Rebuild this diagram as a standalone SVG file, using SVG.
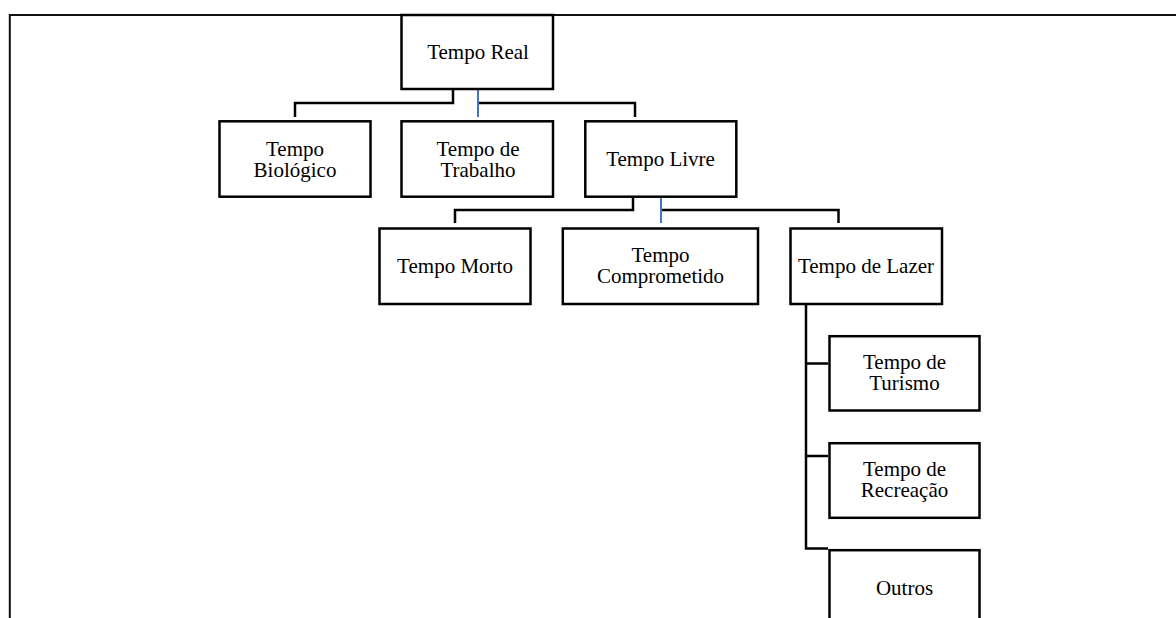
<svg xmlns="http://www.w3.org/2000/svg" width="1176" height="618" viewBox="0 0 1176 618">
  <style>
    .box { fill: #ffffff; stroke: #000000; stroke-width: 2.5; }
    .lbl { font-family: "Liberation Serif", "Times New Roman", serif; font-size: 21px; fill: #000000; text-anchor: middle; }
    .conn { fill: none; stroke: #000000; stroke-width: 2.5; }
    .conn-blue { fill: none; stroke: #4472C4; stroke-width: 2; }
    .frame { fill: none; stroke: #111111; stroke-width: 2; }
  </style>

  <rect width="1176" height="618" fill="#ffffff"/>

  <!-- outer frame (top and left edges) -->
  <path class="frame" d="M9.8,618 V15 H1176"/>

  <!-- connectors -->
  <g id="connectors">
    <path class="conn" d="M453,89 V103 H295 V117"/>
    <path class="conn" d="M478,103 H635 V117"/>
    <path class="conn-blue" d="M478,89 V117"/>

    <path class="conn" d="M633,197 V210 H455 V223"/>
    <path class="conn" d="M661,210 H838.5 V223"/>
    <path class="conn-blue" d="M661,197 V223"/>

    <path class="conn" d="M806,304 V548.5 H828"/>
    <path class="conn" d="M806,363.5 H828"/>
    <path class="conn" d="M806,456 H828"/>
  </g>

  <g id="tempo-real">
    <rect class="box" x="401.5" y="15" width="151.5" height="74"/>
    <text class="lbl" x="478" y="59">Tempo Real</text>
  </g>

  <g id="tempo-biologico">
    <rect class="box" x="219.5" y="121.3" width="151" height="75.4"/>
    <text class="lbl" x="295" y="156">Tempo</text>
    <text class="lbl" x="295" y="177">Biológico</text>
  </g>

  <g id="tempo-trabalho">
    <rect class="box" x="401.5" y="121.3" width="151.5" height="75.4"/>
    <text class="lbl" x="478" y="156">Tempo de</text>
    <text class="lbl" x="478" y="177">Trabalho</text>
  </g>

  <g id="tempo-livre">
    <rect class="box" x="585.3" y="121.3" width="151" height="75.4"/>
    <text class="lbl" x="660.5" y="166">Tempo Livre</text>
  </g>

  <g id="tempo-morto">
    <rect class="box" x="379.5" y="228.5" width="151" height="75.5"/>
    <text class="lbl" x="455" y="273">Tempo Morto</text>
  </g>

  <g id="tempo-comprometido">
    <rect class="box" x="562.8" y="228.5" width="195.2" height="75.5"/>
    <text class="lbl" x="660.5" y="262">Tempo</text>
    <text class="lbl" x="660.5" y="283">Comprometido</text>
  </g>

  <g id="tempo-lazer">
    <rect class="box" x="790.5" y="228.5" width="151.5" height="75.5"/>
    <text class="lbl" x="866" y="273">Tempo de Lazer</text>
  </g>

  <g id="tempo-turismo">
    <rect class="box" x="829.5" y="336.2" width="150" height="74.3"/>
    <text class="lbl" x="904.5" y="369">Tempo de</text>
    <text class="lbl" x="904.5" y="390">Turismo</text>
  </g>

  <g id="tempo-recreacao">
    <rect class="box" x="829.5" y="443.2" width="150" height="74.6"/>
    <text class="lbl" x="904.5" y="476">Tempo de</text>
    <text class="lbl" x="904.5" y="497">Recreação</text>
  </g>

  <g id="outros">
    <rect class="box" x="829.5" y="550.2" width="150" height="76"/>
    <text class="lbl" x="904.5" y="594.5">Outros</text>
  </g>
</svg>
